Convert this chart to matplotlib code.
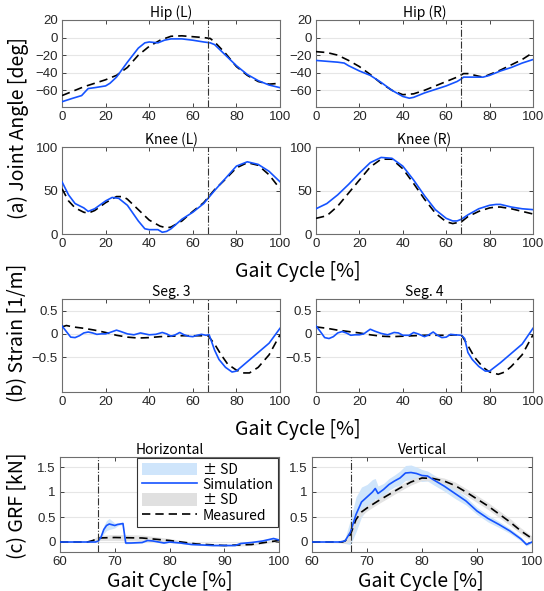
"""
plot.py — gait comparison figure: joint angles, strain and GRF,
simulation (blue) vs measured (black dashed).
"""

import numpy as np
import matplotlib
matplotlib.use("Agg")
import matplotlib.pyplot as plt
from matplotlib.patches import Patch
from matplotlib.lines import Line2D

plt.rcParams["font.family"] = ["Noto Sans CJK JP", "DejaVu Sans"]

# ---------------------------------------------------------------------------
# Data
# ---------------------------------------------------------------------------
TOE_OFF = 67  # dash-dot marker, % gait cycle

hipL_sim_x = [0, 5, 9, 12, 15, 20, 22, 25, 30, 35, 38, 40, 44, 47, 50, 55, 60, 65, 68, 70, 75, 80, 85, 90, 95, 100]
hipL_sim_y = [-73, -69, -66, -58, -57, -55, -52, -45, -28, -12, -6, -5, -6, -3, -1.5, -1.5, -3, -5, -6, -8, -20, -32, -42, -49, -54, -57]
hipL_mea_x = [0, 5, 10, 15, 20, 25, 30, 35, 40, 45, 50, 55, 60, 65, 68, 70, 75, 80, 85, 90, 95, 100]
hipL_mea_y = [-66, -61, -56, -52, -48, -43, -34, -20, -10, -3, 1.5, 2, 1, 0, -1, -5, -18, -33, -43, -50, -53, -52]

hipR_sim_x = [0, 5, 10, 13, 15, 20, 25, 30, 35, 40, 43, 45, 50, 55, 60, 65, 67, 68, 70, 75, 77, 80, 85, 90, 95, 100]
hipR_sim_y = [-26, -27, -28, -29, -32, -38, -43, -51, -60, -67, -69, -68, -63, -59, -55, -50, -47, -45, -45, -45, -45, -43, -38, -34, -29, -25]
hipR_mea_x = [0, 5, 10, 15, 20, 25, 30, 35, 40, 45, 50, 55, 60, 65, 68, 70, 75, 77, 80, 85, 90, 95, 100]
hipR_mea_y = [-16, -17, -20, -26, -33, -42, -52, -60, -65, -64, -60, -55, -50, -45, -41, -41, -44, -45, -42, -37, -31, -25, -17]

kneeL_sim_x = [0, 3, 6, 10, 12, 15, 20, 23, 26, 30, 35, 38, 40, 42, 44, 46, 48, 50, 55, 60, 65, 67, 70, 75, 80, 85, 90, 95, 100]
kneeL_sim_y = [60, 45, 35, 30, 26, 29, 38, 42, 41, 33, 15, 6, 5, 5, 5, 2, 3, 6, 17, 25, 35, 41, 50, 64, 78, 83, 80, 72, 60]
kneeL_mea_x = [0, 3, 6, 10, 12, 15, 20, 25, 28, 30, 35, 40, 45, 48, 50, 55, 60, 65, 67, 70, 75, 80, 85, 90, 95, 100]
kneeL_mea_y = [52, 38, 30, 25, 24, 27, 36, 43, 43, 40, 28, 16, 9, 7, 8, 15, 26, 36, 42, 51, 63, 76, 82, 79, 68, 52]

kneeR_sim_x = [0, 5, 10, 15, 20, 25, 30, 35, 40, 45, 50, 55, 60, 63, 65, 67, 70, 75, 80, 83, 85, 90, 95, 100]
kneeR_sim_y = [29, 35, 45, 57, 70, 82, 88, 87, 78, 62, 44, 28, 18, 15, 15, 17, 22, 29, 33, 34, 34, 31, 29, 28]
kneeR_mea_x = [0, 5, 10, 15, 20, 25, 30, 35, 40, 45, 50, 55, 60, 63, 65, 67, 70, 75, 80, 83, 85, 90, 95, 100]
kneeR_mea_y = [18, 21, 32, 47, 62, 77, 86, 86, 75, 58, 40, 24, 14, 12, 13, 14, 20, 26, 30, 31, 31, 29, 26, 23]

seg3_sim_x = [0, 2, 4, 6, 8, 10, 12, 14, 16, 18, 20, 22, 25, 27, 30, 33, 36, 38, 40, 43, 46, 48, 50, 52, 54, 56, 58, 60, 62, 64, 66, 67.5, 70, 72, 75, 78, 80, 85, 90, 95, 100]
seg3_sim_y = [0.17, 0.05, -0.07, -0.08, -0.04, 0.02, 0.04, 0.02, -0.01, 0.0, 0.0, 0.03, 0.08, 0.05, 0.0, -0.02, 0.02, 0.0, -0.02, -0.01, 0.03, 0.0, -0.05, -0.02, 0.03, -0.02, -0.05, -0.06, -0.03, -0.01, -0.03, -0.02, -0.35, -0.55, -0.72, -0.82, -0.8, -0.6, -0.4, -0.2, 0.12]
seg3_mea_x = [0, 2, 5, 10, 15, 20, 25, 30, 35, 40, 45, 50, 55, 60, 65, 67, 70, 73, 76, 80, 83, 86, 90, 95, 100]
seg3_mea_y = [0.15, 0.18, 0.15, 0.12, 0.08, 0.03, -0.03, -0.07, -0.09, -0.08, -0.06, -0.05, -0.04, -0.04, -0.04, -0.04, -0.22, -0.45, -0.65, -0.78, -0.84, -0.84, -0.72, -0.45, -0.02]

seg4_sim_x = [0, 2, 4, 6, 8, 10, 12, 14, 16, 18, 20, 22, 25, 27, 30, 33, 36, 38, 40, 43, 45, 47, 50, 52, 54, 56, 58, 60, 62, 64, 67, 68.5, 70, 72, 75, 78, 80, 85, 90, 95, 100]
seg4_sim_y = [0.17, 0.05, -0.08, -0.1, -0.06, 0.02, 0.05, 0.02, -0.03, -0.02, -0.02, 0.0, 0.1, 0.06, 0.01, -0.02, 0.03, 0.02, -0.03, -0.03, 0.03, 0.0, -0.06, -0.02, 0.04, -0.03, -0.08, -0.07, -0.01, -0.02, -0.03, -0.1, -0.4, -0.55, -0.7, -0.8, -0.8, -0.62, -0.42, -0.22, 0.12]
seg4_mea_x = [0, 5, 10, 15, 20, 25, 30, 35, 40, 45, 50, 55, 60, 65, 67, 70, 73, 77, 80, 84, 87, 90, 95, 100]
seg4_mea_y = [0.15, 0.12, 0.08, 0.05, 0.02, -0.02, -0.05, -0.06, -0.05, -0.04, -0.03, -0.03, -0.03, -0.02, -0.02, -0.25, -0.5, -0.72, -0.82, -0.87, -0.82, -0.7, -0.45, -0.02]

grfH_sim_x = [60, 66.5, 67, 67.5, 68, 68.5, 69, 70, 70.5, 71, 71.5, 72, 73, 75, 76, 77, 78, 79, 80, 82, 84, 86, 88, 90, 92, 93, 95, 97, 99, 100]
grfH_sim_y = [0, 0, 0.02, 0.1, 0.25, 0.33, 0.36, 0.33, 0.35, 0.36, 0.37, -0.02, -0.02, -0.01, 0.03, 0.02, 0.0, -0.02, 0.0, -0.02, -0.05, -0.06, -0.07, -0.07, -0.07, -0.03, -0.01, 0.02, 0.07, 0.04]
grfH_sim_sd = [0, 0, 0.01, 0.05, 0.08, 0.1, 0.11, 0.05, 0.03, 0.02, 0.02, 0.02, 0.01, 0.01, 0.01, 0.01, 0.01, 0.01, 0.01, 0.01, 0.01, 0.01, 0.01, 0.01, 0.01, 0.01, 0.01, 0.01, 0.02, 0.02]
grfH_mea_x = [60, 65, 66, 67, 70, 75, 80, 85, 90, 95, 98, 100]
grfH_mea_y = [0, 0, 0.03, 0.08, 0.09, 0.08, 0.03, -0.04, -0.07, -0.05, 0.0, 0.03]
grfH_mea_sd = [0, 0, 0.02, 0.05, 0.06, 0.06, 0.04, 0.02, 0.02, 0.02, 0.02, 0.02]

grfV_sim_x = [60, 65, 66, 67, 68, 69, 70, 71, 71.5, 72, 73, 74, 75, 76, 77, 78, 79, 80, 81, 82, 84, 86, 88, 90, 92, 94, 96, 98, 99, 100]
grfV_sim_y = [0, 0, 0.02, 0.2, 0.55, 0.8, 0.9, 1.0, 1.07, 0.97, 1.05, 1.15, 1.22, 1.28, 1.38, 1.39, 1.37, 1.33, 1.32, 1.25, 1.12, 0.97, 0.82, 0.62, 0.47, 0.35, 0.22, 0.06, -0.05, 0.0]
grfV_sim_sd = [0, 0, 0.05, 0.25, 0.35, 0.3, 0.25, 0.25, 0.2, 0.15, 0.12, 0.12, 0.12, 0.14, 0.15, 0.15, 0.13, 0.12, 0.1, 0.1, 0.1, 0.1, 0.08, 0.07, 0.07, 0.06, 0.05, 0.04, 0.03, 0.02]
grfV_mea_x = [60, 65.5, 66, 67, 68, 69, 70, 72, 74, 76, 78, 80, 82, 84, 86, 88, 90, 92, 94, 96, 98, 100]
grfV_mea_y = [0, 0, 0.02, 0.15, 0.45, 0.6, 0.68, 0.82, 0.95, 1.08, 1.2, 1.28, 1.27, 1.22, 1.13, 1.0, 0.86, 0.72, 0.56, 0.4, 0.22, 0.07]
grfV_mea_sd = [0, 0.02, 0.05, 0.15, 0.1, 0.07, 0.06, 0.06, 0.06, 0.06, 0.06, 0.05, 0.05, 0.06, 0.07, 0.07, 0.07, 0.07, 0.07, 0.07, 0.06, 0.05]

# ---------------------------------------------------------------------------
# Style
# ---------------------------------------------------------------------------
BLUE = "#1553ff"
BLUE_BAND = "#cfe5fb"
GRAY_BAND = "#e0e0e0"
SPINE = "#6e6e6e"
TICK_FONT = ["Liberation Sans", "DejaVu Sans"]
TICK_FS = 9.5
TITLE_FS = 10
LABEL_FS = 14

W, H = 544, 591


def px_axes(fig, left, top, right, bottom):
    """Add axes from pixel box (origin top-left)."""
    return fig.add_axes([left / W, 1 - bottom / H, (right - left) / W, (bottom - top) / H])


def style_axes(ax, title, xlim, xticks, ylim, yticks, yticklabels=None):
    ax.set_xlim(*xlim)
    ax.set_xticks(xticks)
    ax.set_ylim(*ylim)
    ax.set_yticks(yticks)
    if yticklabels is not None:
        ax.set_yticklabels(yticklabels)
    ax.set_title(title, fontsize=TITLE_FS, pad=2)
    ax.grid(axis="y", color="#e6e6e6", linewidth=0.8)
    ax.set_axisbelow(True)
    ax.tick_params(direction="in", top=True, right=True, length=3, width=0.6,
                   labelsize=TICK_FS, colors="#262626", pad=3)
    for lbl in ax.get_xticklabels() + ax.get_yticklabels():
        lbl.set_family(TICK_FONT)
    for s in ax.spines.values():
        s.set_color(SPINE)
        s.set_linewidth(0.8)
    ax.axvline(TOE_OFF, color="#333333", linestyle="-.", linewidth=0.8, zorder=5)


def draw_pair(ax, sx, sy, mx, my):
    ax.plot(mx, my, color="black", linestyle=(0, (5, 3)), linewidth=1.2, zorder=3)
    ax.plot(sx, sy, color=BLUE, linewidth=1.2, zorder=4)


def draw_grf(ax, sx, sy, ssd, mx, my, msd):
    sy, ssd, my, msd = map(np.asarray, (sy, ssd, my, msd))
    ax.fill_between(sx, sy - ssd, sy + ssd, color=BLUE_BAND, linewidth=0, zorder=2)
    ax.fill_between(mx, my - msd, my + msd, color=GRAY_BAND, linewidth=0, alpha=0.9, zorder=2.5)
    draw_pair(ax, sx, sy, mx, my)


# ---------------------------------------------------------------------------
# Figure
# ---------------------------------------------------------------------------
fig = plt.figure(figsize=(W / 100, H / 100), dpi=100)

pct_ticks = [0, 20, 40, 60, 80, 100]
hip_ticks = [-60, -40, -20, 0, 20]
hip_lbls = ["\u221260", "\u221240", "\u221220", "0", "20"]

ax = px_axes(fig, 62, 20, 280, 107)
draw_pair(ax, hipL_sim_x, hipL_sim_y, hipL_mea_x, hipL_mea_y)
style_axes(ax, "Hip (L)", (0, 100), pct_ticks, (-79, 20), hip_ticks, hip_lbls)

ax = px_axes(fig, 316, 20, 533, 107)
draw_pair(ax, hipR_sim_x, hipR_sim_y, hipR_mea_x, hipR_mea_y)
style_axes(ax, "Hip (R)", (0, 100), pct_ticks, (-79, 20), hip_ticks, hip_lbls)

ax = px_axes(fig, 62, 147, 280, 234)
draw_pair(ax, kneeL_sim_x, kneeL_sim_y, kneeL_mea_x, kneeL_mea_y)
style_axes(ax, "Knee (L)", (0, 100), pct_ticks, (0, 100), [0, 50, 100])

ax = px_axes(fig, 316, 147, 533, 234)
draw_pair(ax, kneeR_sim_x, kneeR_sim_y, kneeR_mea_x, kneeR_mea_y)
style_axes(ax, "Knee (R)", (0, 100), pct_ticks, (0, 100), [0, 50, 100])

strain_ticks = [-0.5, 0, 0.5]
strain_lbls = ["\u22120.5", "0", "0.5"]
ax = px_axes(fig, 62, 299, 280, 392)
draw_pair(ax, seg3_sim_x, seg3_sim_y, seg3_mea_x, seg3_mea_y)
style_axes(ax, "Seg. 3", (0, 100), pct_ticks, (-1.25, 0.75), strain_ticks, strain_lbls)

ax = px_axes(fig, 316, 299, 533, 392)
draw_pair(ax, seg4_sim_x, seg4_sim_y, seg4_mea_x, seg4_mea_y)
style_axes(ax, "Seg. 4", (0, 100), pct_ticks, (-1.25, 0.75), strain_ticks, strain_lbls)

grf_xticks = [60, 70, 80, 90, 100]
grf_yticks = [0, 0.5, 1, 1.5]
grf_lbls = ["0", "0.5", "1", "1.5"]
axH = px_axes(fig, 60, 457, 279, 552)
draw_grf(axH, grfH_sim_x, grfH_sim_y, grfH_sim_sd, grfH_mea_x, grfH_mea_y, grfH_mea_sd)
style_axes(axH, "Horizontal", (60, 100), grf_xticks, (-0.2, 1.7), grf_yticks, grf_lbls)

axV = px_axes(fig, 312, 457, 532, 552)
draw_grf(axV, grfV_sim_x, grfV_sim_y, grfV_sim_sd, grfV_mea_x, grfV_mea_y, grfV_mea_sd)
style_axes(axV, "Vertical", (60, 100), grf_xticks, (-0.2, 1.7), grf_yticks, grf_lbls)

handles = [
    Patch(facecolor=BLUE_BAND, edgecolor="none"),
    Line2D([], [], color=BLUE, linewidth=1.2),
    Patch(facecolor=GRAY_BAND, edgecolor="none"),
    Line2D([], [], color="black", linestyle=(0, (5, 3)), linewidth=1.2),
]
leg = axH.legend(handles, ["\u00b1 SD", "Simulation", "\u00b1 SD", "Measured"],
                 loc="upper right", bbox_to_anchor=(0.995, 0.985), fontsize=10,
                 handlelength=4.0, handleheight=1.0, handletextpad=0.4,
                 labelspacing=0.1, borderpad=0.3, borderaxespad=0.0,
                 fancybox=False, framealpha=1)
leg.get_frame().set_edgecolor("#333333")
leg.get_frame().set_linewidth(0.8)
leg.set_zorder(10)

# shared labels
fig.text(298 / W, 1 - 271 / H, "Gait Cycle [%]", ha="center", va="center", fontsize=LABEL_FS)
fig.text(298 / W, 1 - 430 / H, "Gait Cycle [%]", ha="center", va="center", fontsize=LABEL_FS)
fig.text(170 / W, 1 - 581 / H, "Gait Cycle [%]", ha="center", va="center", fontsize=LABEL_FS)
fig.text(421 / W, 1 - 581 / H, "Gait Cycle [%]", ha="center", va="center", fontsize=LABEL_FS)

fig.text(18 / W, 1 - 128 / H, "(a) Joint Angle [deg]", rotation=90, ha="center", va="center", fontsize=LABEL_FS)
fig.text(18 / W, 1 - 333 / H, "(b) Strain [1/m]", rotation=90, ha="center", va="center", fontsize=LABEL_FS)
fig.text(18 / W, 1 - 506 / H, "(c) GRF [kN]", rotation=90, ha="center", va="center", fontsize=LABEL_FS)

fig.savefig("out.png", dpi=100)
plt.close(fig)
